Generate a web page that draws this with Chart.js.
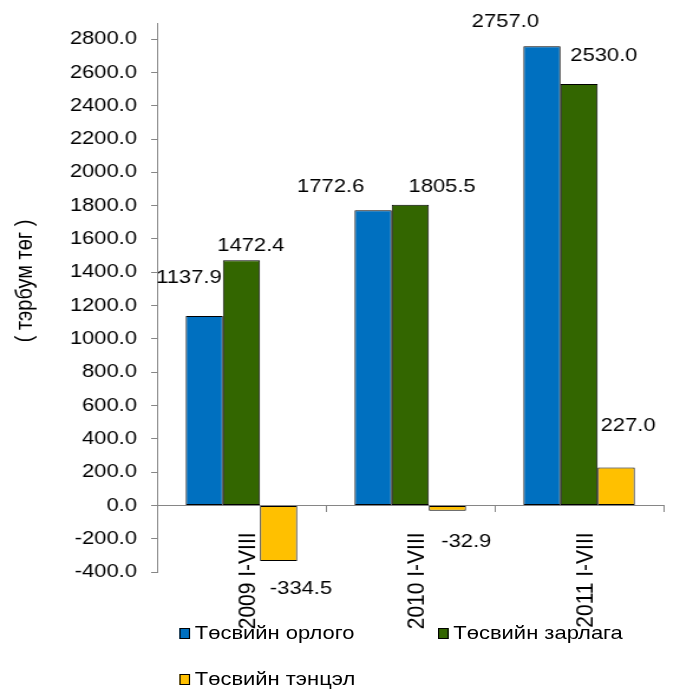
<!DOCTYPE html>
<html>
<head>
<meta charset="utf-8">
<script src="https://cdn.jsdelivr.net/npm/chart.js@4.4.1/dist/chart.umd.min.js"></script>
<style>
  html, body { margin: 0; padding: 0; background: #fff; overflow: hidden; }
  #wrap { position: relative; width: 576px; height: 689px; transform: scaleX(1.1806); transform-origin: 0 0; }
  #legend { position: absolute; left: 0; top: 0; width: 576px; height: 689px; pointer-events: none;
            font-family: "Liberation Sans", Arial, sans-serif; font-size: 18.6px; color: #000; }
  .item { position: absolute; display: flex; align-items: center; white-space: nowrap; height: 22px; line-height: 22px; }
  .swatch { width: 7px; height: 9px; border: 1px solid #000; margin-right: 4px; }
</style>
</head>
<body>
<div id="wrap">
  <canvas id="budgetChart" width="576" height="689"></canvas>
  <div id="legend"></div>
</div>
<script>
const categories = ["2009 I-VIII", "2010 I-VIII", "2011 I-VIII"];
const seriesNames = ["Төсвийн орлого", "Төсвийн зарлага", "Төсвийн тэнцэл"];
const revenue = [1137.9, 1772.6, 2757.0];
const expenditure = [1472.4, 1805.5, 2530.0];
const balance = [-334.5, -32.9, 227.0];
const yMin = -400;
const yMax = 2800;
const yStep = 200;
const yTitle = "( тэрбум төг )";

const FONT = '"Liberation Sans", Arial, sans-serif';
const colors = ["#0070C0", "#336600", "#FFC000"];

// label nudges (px) from each bar's end, the labels in the original were hand placed
const labelOffsets = [
  [[-13, -38], [-36, -23], [-31, -24]],
  [[8, -14], [27, -18], [21, -28]],
  [[19, 28], [16, 31], [10, -42]],
];
// legend spots: [left, top]
const legendSpots = [[152, 622], [371, 622], [152, 668]];

const valueLabels = {
  id: "valueLabels",
  afterDatasetsDraw(chart) {
    const ctx = chart.ctx;
    ctx.save();
    ctx.font = "18.6px " + FONT;
    ctx.fillStyle = "#000";
    ctx.textAlign = "center";
    ctx.textBaseline = "middle";
    chart.data.datasets.forEach((ds, i) => {
      chart.getDatasetMeta(i).data.forEach((bar, j) => {
        const off = labelOffsets[i][j];
        ctx.fillText(ds.data[j].toFixed(1), bar.x + off[0], bar.y + off[1]);
      });
    });
    // axis title sits a bit above the middle of the axis in the original
    ctx.translate(21, 281);
    ctx.rotate(-Math.PI / 2);
    ctx.font = "20px " + FONT;
    ctx.fillText(yTitle, 0, 0);
    ctx.restore();
  }
};

const seriesData = [revenue, expenditure, balance];

const chart = new Chart(document.getElementById("budgetChart"), {
  type: "bar",
  data: {
    labels: categories,
    datasets: seriesData.map((d, i) => ({
      label: seriesNames[i],
      data: d,
      backgroundColor: colors[i],
      borderColor: "#000",
      borderWidth: 1,
      borderSkipped: false,
      categoryPercentage: 0.66,
      barPercentage: 1,
    })),
  },
  options: {
    responsive: false,
    animation: false,
    layout: { padding: { top: 23, right: 14, bottom: 117, left: 0 } },
    plugins: {
      legend: { display: false },
      tooltip: { enabled: false },
    },
    scales: {
      x: {
        position: { y: 0 },
        grid: { drawOnChartArea: false, tickLength: 6, color: "#868686", offset: true },
        border: { color: "#868686" },
        ticks: { minRotation: 90, maxRotation: 90, color: "#000", padding: 21, labelOffset: 6,
                 font: { family: FONT, size: 21 } },
      },
      y: {
        min: yMin,
        max: yMax + 96,
        afterBuildTicks: s => { s.ticks = s.ticks.filter(t => t.value <= yMax); },
        afterFit: s => { s.width = 133; },
        ticks: { stepSize: yStep, includeBounds: false, color: "#000", padding: 12,
                 font: { family: FONT, size: 18.6 }, callback: v => v.toFixed(1) },
        grid: { drawOnChartArea: false, tickLength: 5, color: "#868686" },
        border: { color: "#868686" },
      },
    },
  },
  plugins: [valueLabels],
});

// html legend built from the datasets
const legendBox = document.getElementById("legend");
chart.data.datasets.forEach((ds, i) => {
  const item = document.createElement("div");
  item.className = "item";
  item.style.left = legendSpots[i][0] + "px";
  item.style.top = legendSpots[i][1] + "px";
  item.innerHTML = '<span class="swatch" style="background:' + ds.backgroundColor + '"></span>' + ds.label;
  legendBox.appendChild(item);
});
</script>
</body>
</html>
